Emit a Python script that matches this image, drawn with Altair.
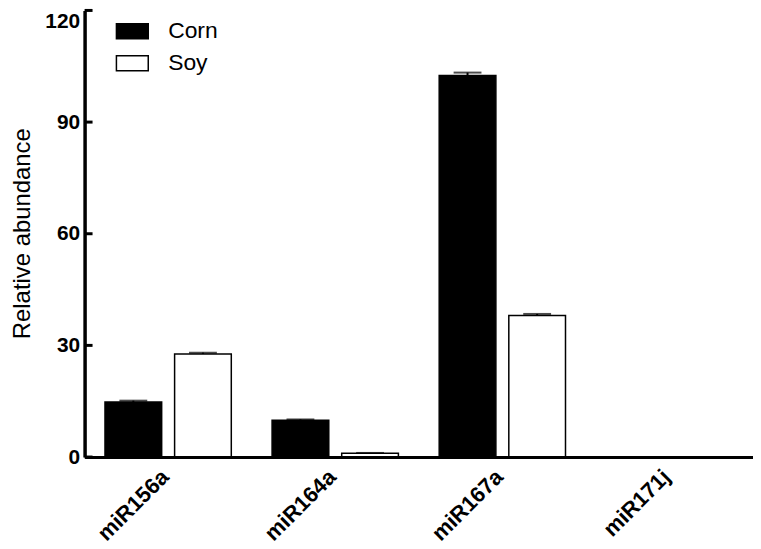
import altair as alt
import pandas as pd

categories = ["miR156a", "miR164a", "miR167a", "miR171j"]
groups = ["Corn", "Soy"]
corn_values = [14.8, 9.9, 102.5, 0.0]
soy_values = [27.7, 1.0, 38.0, 0.0]
corn_errors = [0.35, 0.2, 0.8, 0.0]
soy_errors = [0.35, 0.1, 0.45, 0.0]
y_ticks = [0, 30, 60, 90, 120]

rows = []
for i, c in enumerate(categories):
    rows.append({"miRNA": c, "Sample": "Corn", "value": corn_values[i], "err": corn_errors[i]})
    rows.append({"miRNA": c, "Sample": "Soy", "value": soy_values[i], "err": soy_errors[i]})
df = pd.DataFrame(rows)
df["top"] = df["value"] + df["err"]
ticks_df = pd.DataFrame({"t": y_ticks})

FONT = "Liberation Sans"

x = alt.X(
    "miRNA:N", sort=categories,
    scale=alt.Scale(paddingInner=0, paddingOuter=0),
    axis=alt.Axis(title=None, labelAngle=-45, labelFontSize=22, labelFontWeight="bold",
                  labelFont=FONT, labelColor="black", ticks=False, domainWidth=3,
                  domainColor="black", labelPadding=9, labelOffset=-10, zindex=1),
)
xoff = alt.XOffset("Sample:N", sort=groups,
                   scale=alt.Scale(paddingInner=0.1857, paddingOuter=0.293))
yscale = alt.Scale(domain=[0, 120], nice=False, zero=True)
y = alt.Y(
    "value:Q", scale=yscale,
    axis=alt.Axis(values=y_ticks, title="Relative abundance", grid=False, ticks=False,
                  labelFontSize=21, labelFontWeight="bold", labelFont=FONT, labelColor="black",
                  labelBaseline=alt.expr("datum.value == 120 ? 'top' : 'middle'"),
                  labelPadding=5, domainWidth=3.5, domainColor="black",
                  titleFont=FONT, titleFontSize=24, titleFontWeight="normal", titleColor="black",
                  titleX=-55, titleY=224, titleAngle=270, titleAlign="center",
                  titleBaseline="alphabetic", zindex=1),
)
color = alt.Color(
    "Sample:N",
    scale=alt.Scale(domain=groups, range=["black", "white"]),
    legend=alt.Legend(title=None, orient="none", legendX=31, legendY=4,
                      symbolType="M-1,-0.47L1,-0.47L1,0.47L-1,0.47Z", symbolSize=1024,
                      symbolStrokeColor="black", symbolStrokeWidth=1.5, symbolOpacity=1,
                      labelFontSize=23, labelFont=FONT, labelColor="black",
                      labelOffset=19, rowPadding=3, padding=0),
)

base = alt.Chart(df)
bars = base.mark_bar(stroke="black", strokeWidth=1.5, opacity=1).encode(
    x=x, xOffset=xoff, y=y, color=color
)
err_rule = base.mark_rule(color="black", strokeWidth=2).encode(
    x=x, xOffset=xoff, y=alt.Y("value:Q", scale=yscale), y2="top:Q"
)
err_cap = base.mark_tick(color="black", size=28, thickness=2).encode(
    x=x, xOffset=xoff, y=alt.Y("top:Q", scale=yscale)
)
yticks = alt.Chart(ticks_df).mark_rule(color="black", strokeWidth=3).encode(
    y=alt.Y("t:Q", scale=yscale), x=alt.value(0), x2=alt.value(8)
)

chart = alt.layer(bars, err_rule, err_cap, yticks).properties(
    width=672, height=449,
    background="white",
    autosize=alt.AutoSizeParams(type="none"),
    padding={"left": 77, "top": 1, "right": 0, "bottom": 91},
).configure_view(stroke=None)

chart.save("out.html", embed_options={"renderer": "svg", "actions": False})
